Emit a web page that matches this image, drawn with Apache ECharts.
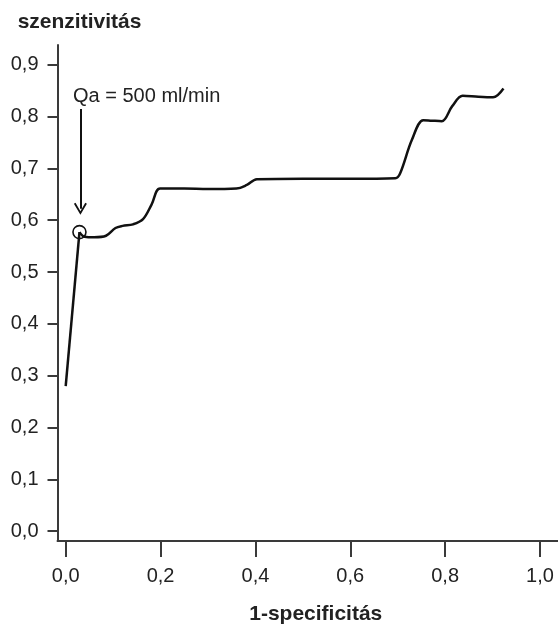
<!DOCTYPE html>
<html>
<head>
<meta charset="utf-8">
<script src="https://cdn.jsdelivr.net/npm/echarts@6/dist/echarts.min.js"></script>
<style>html,body{margin:0;padding:0;background:#fff}#c{width:558px;height:630px}</style>
</head>
<body>
<div id="c"></div>
<script>
// ROC curve: x = 1-specificitás, y = szenzitivitás
const rocX = [0.000, 0.029, 0.040, 0.060, 0.085, 0.105, 0.120, 0.142, 0.163, 0.181, 0.199, 0.250, 0.300, 0.360, 0.382, 0.403, 0.500, 0.600, 0.695, 0.705, 0.730, 0.754, 0.772, 0.793, 0.815, 0.837, 0.870, 0.901, 0.923];
const rocY = [0.280, 0.577, 0.568, 0.567, 0.570, 0.585, 0.589, 0.592, 0.602, 0.630, 0.661, 0.661, 0.660, 0.661, 0.668, 0.679, 0.680, 0.680, 0.681, 0.690, 0.755, 0.793, 0.792, 0.791, 0.820, 0.840, 0.838, 0.837, 0.854];
// highlighted cut-off point
const markedPoint = [0.029, 0.577];
const annotationText = 'Qa = 500 ml/min';
const arrowFrom = [0.031, 0.8145];
const arrowTo = [0.031, 0.622];
const textAnchor = [0.0154, 0.839];
// axes
const xTicks = [0, 0.2, 0.4, 0.6, 0.8, 1.0];
const yTicks = [0, 0.1, 0.2, 0.3, 0.4, 0.5, 0.6, 0.7, 0.8, 0.9];
const xName = '1-specificitás';
const yName = 'szenzitivitás';

const fmt = v => v.toFixed(1).replace('.', ',');
const font = 'Liberation Sans, Arial, sans-serif';
const axisCol = '#3a3a3a';
const txtCol = '#222';
const pts = rocX.map((x, i) => [x, rocY[i]]);

const chart = echarts.init(document.getElementById('c'), null, {renderer: 'canvas'});
chart.setOption({
  animation: false,
  backgroundColor: '#fff',
  grid: {left: 57.5, top: 45, right: 0, bottom: 82, containLabel: false},
  xAxis: {
    type: 'value', min: -0.0173, max: 1.038,
    name: xName, nameLocation: 'middle', nameGap: 63,
    nameTextStyle: {fontFamily: font, fontSize: 21, fontWeight: 'bold', color: txtCol, padding: [0, 0, 0, 16]},
    axisLine: {onZero: false, lineStyle: {color: axisCol, width: 2}},
    axisTick: {show: true, length: 16, customValues: xTicks, lineStyle: {color: axisCol, width: 2}},
    axisLabel: {customValues: xTicks, formatter: fmt, margin: 25, fontFamily: font, fontSize: 20, color: txtCol},
    splitLine: {show: false}
  },
  yAxis: {
    type: 'value', min: -0.019, max: 0.938,
    name: yName, nameLocation: 'end', nameGap: 23,
    nameTextStyle: {fontFamily: font, fontSize: 21, fontWeight: 'bold', color: txtCol, align: 'center', verticalAlign: 'middle', padding: [0, 0, 0, 44]},
    axisLine: {onZero: false, lineStyle: {color: axisCol, width: 2}},
    axisTick: {show: true, length: 10, customValues: yTicks, lineStyle: {color: axisCol, width: 2}},
    axisLabel: {customValues: yTicks, formatter: fmt, margin: 19, fontFamily: font, fontSize: 20, color: txtCol},
    splitLine: {show: false}
  },
  series: [
    {
      type: 'line', smooth: false, symbol: 'none',
      data: pts.slice(0, 2),
      lineStyle: {color: '#111', width: 2.5},
      z: 3
    },
    {
      type: 'line', smooth: 0.35, symbol: 'none',
      data: pts.slice(1),
      lineStyle: {color: '#111', width: 2.5},
      z: 3
    },
    {
      type: 'scatter', data: [markedPoint], symbol: 'circle', symbolSize: 13,
      itemStyle: {color: 'rgba(0,0,0,0)', borderColor: '#111', borderWidth: 1.6, opacity: 1},
      z: 4
    },
    {
      type: 'scatter', data: [textAnchor], symbolSize: 0,
      itemStyle: {opacity: 1},
      label: {show: true, position: 'right', distance: 0, formatter: annotationText,
        fontFamily: font, fontSize: 20, color: txtCol},
      markLine: {
        silent: true,
        symbol: ['none', 'path://M6,0 L12,10.5 L10.5,11.5 L6,3.4 L1.5,11.5 L0,10.5 Z'],
        symbolSize: [13, 12],
        lineStyle: {color: '#111', width: 2, type: 'solid'},
        label: {show: false},
        data: [[{coord: arrowFrom}, {coord: arrowTo}]]
      }
    }
  ]
});
</script>
</body>
</html>
